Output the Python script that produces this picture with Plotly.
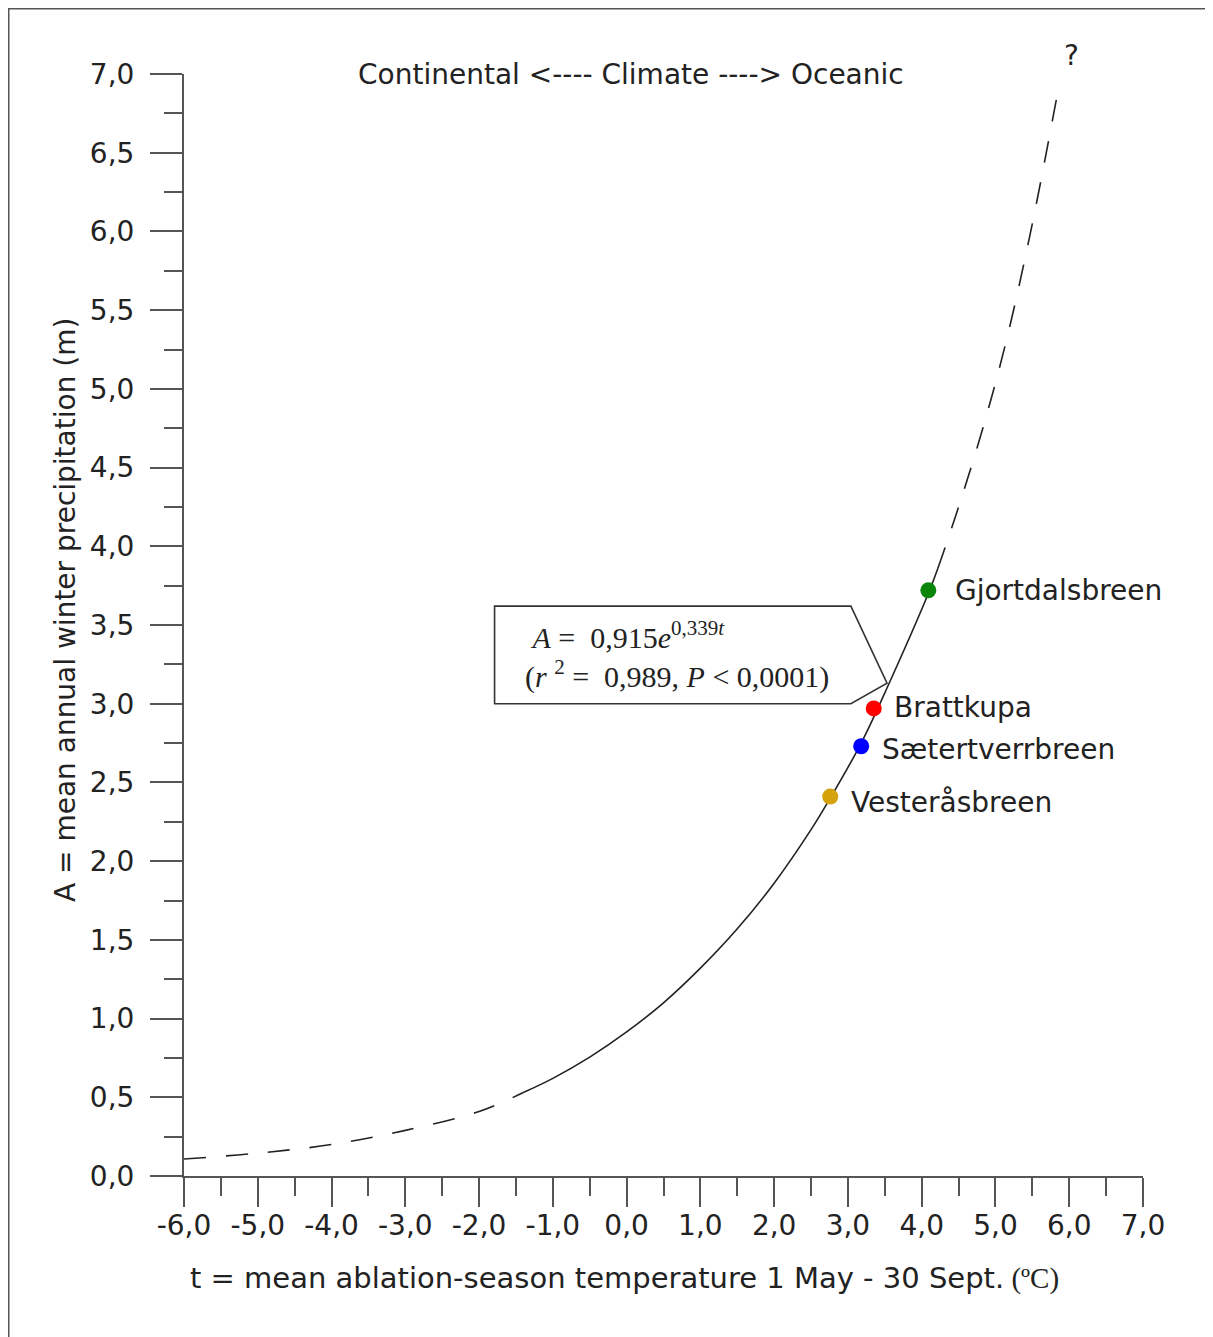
import plotly.graph_objects as go

# ---------------- data ----------------
# fitted curve (t in degC, A in m)
curve_low_t = [-6.0, -5.0, -4.0, -3.0, -2.0, -1.4]
curve_low_A = [0.108, 0.145, 0.20, 0.29, 0.41, 0.53]

curve_mid_t = [-1.4, -1.0, -0.5, 0.0, 0.5, 1.0, 1.5, 2.0, 2.5, 2.76, 3.18, 3.53, 4.09, 4.22]
curve_mid_A = [0.53, 0.62, 0.755, 0.915, 1.10, 1.32, 1.57, 1.86, 2.20, 2.40, 2.75, 3.10, 3.70, 3.86]

curve_high_t = [4.22, 4.5, 4.86, 5.17, 5.5, 5.85]
curve_high_A = [3.86, 4.25, 4.80, 5.35, 6.05, 6.90]

glacier_names = ["Vesteråsbreen", "Sætertverrbreen", "Brattkupa", "Gjortdalsbreen"]
glacier_t = [2.76, 3.18, 3.35, 4.09]
glacier_A = [2.41, 2.73, 2.97, 3.72]
glacier_colors = ["#d4a20a", "#0000ff", "#ff0000", "#0a860a"]

x_tickvals = [-6, -5, -4, -3, -2, -1, 0, 1, 2, 3, 4, 5, 6, 7]
x_ticktext = ["-6,0", "-5,0", "-4,0", "-3,0", "-2,0", "-1,0", "0,0",
              "1,0", "2,0", "3,0", "4,0", "5,0", "6,0", "7,0"]
y_tickvals = [0, 0.5, 1, 1.5, 2, 2.5, 3, 3.5, 4, 4.5, 5, 5.5, 6, 6.5, 7]
y_ticktext = ["0,0", "0,5", "1,0", "1,5", "2,0", "2,5", "3,0", "3,5",
              "4,0", "4,5", "5,0", "5,5", "6,0", "6,5", "7,0"]

# ---------------- figure ----------------
W, H = 1213, 1337
OFF = 8  # page body offset
ML, MR, MT, MB = 176, 78, 66, 169
PW, PH = W - ML - MR, H - MT - MB
SANS = "DejaVu Sans"
SERIF = "Liberation Serif"
TXT = "#222222"
AX = "#555555"
FS = 28


def px(xs):
    return (xs - OFF - ML) / PW


def py(ys):
    return (H - MB - (ys - OFF)) / PH


fig = go.Figure()

line_style = dict(color="#222222", width=1.6, shape="spline", smoothing=1.0)
fig.add_trace(go.Scatter(x=curve_low_t, y=curve_low_A, mode="lines",
                         line=dict(**line_style, dash="22px,20px"),
                         showlegend=False, hoverinfo="skip"))
fig.add_trace(go.Scatter(x=curve_mid_t, y=curve_mid_A, mode="lines",
                         line=line_style, showlegend=False, hoverinfo="skip"))
fig.add_trace(go.Scatter(x=curve_high_t, y=curve_high_A, mode="lines",
                         line=dict(**line_style, dash="22px,20px"),
                         showlegend=False, hoverinfo="skip"))
fig.add_trace(go.Scatter(x=glacier_t, y=glacier_A, mode="markers",
                         marker=dict(size=16, color=glacier_colors, line=dict(width=0)),
                         showlegend=False, hoverinfo="skip", cliponaxis=False))

# ---- annotations ----
ann = []
label_shift = {"Vesteråsbreen": (19, -6), "Sætertverrbreen": (19, -3),
               "Brattkupa": (18, 1), "Gjortdalsbreen": (25, 0)}
for n, tx, ay in zip(glacier_names, glacier_t, glacier_A):
    xs, ys = label_shift[n]
    ann.append(dict(x=tx, y=ay, xref="x", yref="y", text=n, showarrow=False,
                    xanchor="left", yanchor="middle", xshift=xs, yshift=ys,
                    font=dict(family=SANS, size=FS, color=TXT)))

# equation box text
ann.append(dict(x=-1.40, y=3.31, xref="x", yref="y",
                text=" <i>A</i> =  0,915<i>e</i><sup>0,339<i>t</i></sup><br>(<i>r</i> <sup>2</sup> =  0,989, <i>P</i> < 0,0001)",
                showarrow=False, xanchor="left", yanchor="middle", align="left",
                font=dict(family=SERIF, size=30, color=TXT)))

# top text
ann.append(dict(x=px(631), y=py(75), xref="paper", yref="paper",
                text="Continental <---- Climate ----> Oceanic",
                showarrow=False, xanchor="center", yanchor="middle",
                font=dict(family=SANS, size=FS, color=TXT)))
# question mark
ann.append(dict(x=px(1071), y=py(55), xref="paper", yref="paper", text="?",
                showarrow=False, xanchor="center", yanchor="middle",
                font=dict(family=SANS, size=FS, color=TXT)))
# x-axis title
ann.append(dict(x=px(188), y=py(1278), xref="paper", yref="paper",
                text='t = mean ablation-season temperature 1 May - 30 Sept.<span style="font-family:Liberation Serif"> (ºC)</span>',
                showarrow=False, xanchor="left", yanchor="middle",
                font=dict(family=SANS, size=29, color=TXT)))
# y-axis title
ann.append(dict(x=px(65), y=py(610), xref="paper", yref="paper",
                text="A = mean annual winter precipitation (m)", textangle=-90,
                showarrow=False, xanchor="center", yanchor="middle",
                font=dict(family=SANS, size=FS, color=TXT)))

# ---- shapes: equation callout box and outer frame ----
shapes = [
    dict(type="path", xref="x", yref="y",
         path="M -1.79,3.62 L 3.04,3.62 L 3.53,3.13 L 3.04,3.0 L -1.79,3.0 Z",
         line=dict(color="#333333", width=1.6), fillcolor="white", layer="above"),
    dict(type="path", xref="paper", yref="paper",
         path="M {l},{b} L {l},{t} L {r},{t}".format(
             l=(0.75 - ML) / PW, r=(W - ML) / PW,
             t=(H - MB - 0.75) / PH, b=(H - MB - H) / PH),
         line=dict(color="#555555", width=1.5)),
]

fig.update_layout(
    width=W, height=H,
    margin=dict(l=ML, r=MR, t=MT, b=MB, pad=0),
    paper_bgcolor="white", plot_bgcolor="white",
    annotations=ann, shapes=shapes,
    font=dict(family=SANS, size=FS, color=TXT),
)
fig.update_xaxes(range=[-6, 7], showgrid=False, zeroline=False,
                 showline=True, linecolor=AX, linewidth=2,
                 ticks="outside", ticklen=29, tickwidth=2, tickcolor=AX,
                 tickvals=x_tickvals, ticktext=x_ticktext,
                 ticklabelstandoff=-6,
                 tickfont=dict(family=SANS, size=FS, color=TXT),
                 minor=dict(ticks="outside", ticklen=18, tickwidth=2, tickcolor=AX,
                            dtick=0.5, tick0=0, showgrid=False))
fig.update_yaxes(range=[0, 7], showgrid=False, zeroline=False,
                 showline=True, linecolor=AX, linewidth=2,
                 ticks="outside", ticklen=32, tickwidth=2, tickcolor=AX,
                 tickvals=y_tickvals, ticktext=y_ticktext,
                 ticklabelstandoff=10,
                 tickfont=dict(family=SANS, size=FS, color=TXT),
                 minor=dict(ticks="outside", ticklen=18, tickwidth=2, tickcolor=AX,
                            dtick=0.25, tick0=0, showgrid=False))

fig.write_html("out.html")
